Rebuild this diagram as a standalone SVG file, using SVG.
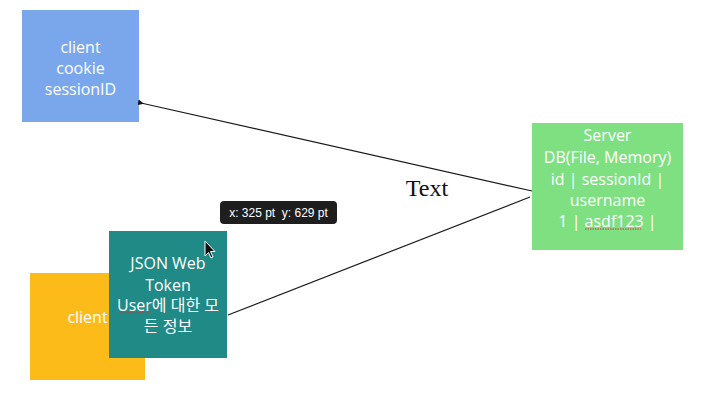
<svg xmlns="http://www.w3.org/2000/svg" width="710" height="407" viewBox="0 0 710 407">
<style>
.lbl{font-family:"Open Sans","Noto Sans","Noto Sans CJK KR",sans-serif;font-size:16px;fill:#ffffff;text-anchor:middle}
.conn{stroke:#1a1a1a;stroke-width:1.2;fill:none}
.spell{stroke:#d03030;stroke-width:1;stroke-dasharray:1.5 1;fill:none}
</style>
<defs>
<marker id="dot" markerWidth="6" markerHeight="6" refX="3" refY="3" orient="auto" markerUnits="userSpaceOnUse">
<path d="M6,0 L0,3 L6,6 Z" fill="#1a1a1a"/>
</marker>
</defs>
<rect width="710" height="407" fill="#ffffff"/>
<g id="client-session">
<rect x="22" y="10" width="117" height="112" fill="#7aa7ec"/>
<text class="lbl" x="80.5" y="53">client</text>
<text class="lbl" x="80.5" y="74">cookie</text>
<text class="lbl" x="80.5" y="95">sessionID</text>
</g>
<g id="server">
<rect x="532" y="123" width="151" height="127" fill="#7ee081"/>
<text class="lbl" x="607.5" y="141">Server</text>
<text class="lbl" x="607.5" y="163">DB(File, Memory)</text>
<text class="lbl" x="607.5" y="185">id | sessionId |</text>
<text class="lbl" x="607.5" y="206">username</text>
<text class="lbl" x="607.5" y="227">1 | asdf123 |</text>
<path class="spell" d="M585,229 L641,229"/>
</g>
<g id="client-jwt">
<rect x="30" y="273" width="115" height="107" fill="#fdbb1a"/>
<text class="lbl" x="87.5" y="323">client</text>
</g>
<g id="jwt">
<rect x="109" y="231" width="118" height="127" fill="#208a87"/>
<text class="lbl" x="168" y="269">JSON Web</text>
<text class="lbl" x="168" y="291">Token</text>
<text class="lbl" x="168" y="311">User에 대한 모</text>
<text class="lbl" x="168" y="332">든 정보</text>
<path class="spell" d="M120,313 L150,313"/>
</g>
<g id="connectors">
<line class="conn" x1="532" y1="191" x2="141" y2="103" marker-end="url(#dot)"/>
<line class="conn" x1="228" y1="315" x2="530" y2="197"/>
<text x="427" y="196" font-family="Liberation Serif,serif" font-size="24" fill="#111" text-anchor="middle">Text</text>
</g>
<g id="tooltip">
<rect x="220" y="201" width="117" height="23" rx="4" fill="#1e1e1e"/>
<text x="278.5" y="216.5" font-family="Liberation Sans,Arial,sans-serif" font-size="12" fill="#ffffff" text-anchor="middle" xml:space="preserve">x: 325 pt  y: 629 pt</text>
</g>
<g id="cursor">
<path d="M205,241 L205,256 L208.5,252.5 L211,258 L213,257 L210.5,251.5 L215,251.5 Z" fill="#111" stroke="#fff" stroke-width="1"/>
</g>
</svg>
